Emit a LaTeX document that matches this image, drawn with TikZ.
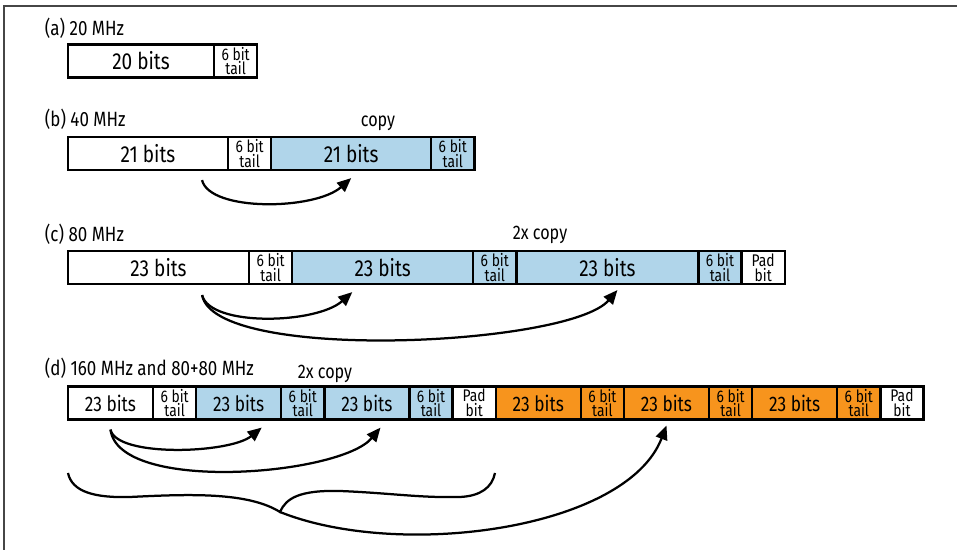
\documentclass[tikz,border=0pt]{standalone}
\usepackage{fontspec}
\setmainfont[FakeStretch=0.82]{Fira Sans}
\usepackage{tikz}
\usetikzlibrary{
    arrows.meta,
    positioning
}
\definecolor{copyblue}{RGB}{176,213,234}
\definecolor{extorange}{RGB}{247,148,29}
\definecolor{framegray}{RGB}{70,70,70}

\begin{document}
\begin{tikzpicture}[
    x=1cm, y=1cm,
    cell/.style={rectangle, draw, line width=1.8pt, minimum height=0.83cm, inner sep=0pt, outer sep=0pt, font=\fontsize{16.5}{18}\selectfont},
    smallcell/.style={cell, minimum width=2.125cm, font=\fontsize{15}{16}\selectfont},
    tail/.style={cell, minimum width=1.08cm, align=center, font=\fontsize{12}{9}\selectfont},
    rowlabel/.style={anchor=base west, font=\fontsize{14.7}{16}\selectfont},
    copylabel/.style={anchor=base, font=\fontsize{14}{16}\selectfont},
    arrow/.style={-{Triangle[length=10pt, width=8.5pt]}, line width=1.6pt}
]
\useasboundingbox (0,0) rectangle (23.925,13.75);

% frame (top and left only)
\draw[framegray, line width=0.9pt] (0.1,0) -- (0.1,13.6) -- (23.925,13.6);

% === (a) 20 MHz ===
\node[rowlabel] (la) at (1.0,12.85) {(a) 20 MHz};
\node[cell, minimum width=3.65cm, anchor=west] (a1) at (1.7,12.225) {20 bits};
\node[tail, right=0pt of a1] (a2) {6 bit\\tail};

% === (b) 40 MHz ===
\node[rowlabel] (lb) at (1.0,10.58) {(b) 40 MHz};
\node[copylabel] (cb) at (9.45,10.58) {copy};
\node[cell, minimum width=4.0cm, anchor=west] (b1) at (1.7,9.9125) {21 bits};
\node[tail, right=0pt of b1] (b2) {6 bit\\tail};
\node[cell, fill=copyblue, minimum width=4.0cm, right=0pt of b2] (b3) {21 bits};
\node[tail, fill=copyblue, right=0pt of b3] (b4) {6 bit\\tail};

\draw[arrow] ([xshift=1.35cm, yshift=-0.25cm]b1.south) .. controls +(0.2,-0.8) and +(-0.9,-0.8) .. ([yshift=-0.2cm]b3.south);

% === (c) 80 MHz ===
\node[rowlabel] (lc) at (1.0,7.71) {(c) 80 MHz};
\node[copylabel] (cc) at (13.5,7.75) {2x copy};
\node[cell, minimum width=4.525cm, anchor=west] (c1) at (1.7,7.0625) {23 bits};
\node[tail, right=0pt of c1] (c2) {6 bit\\tail};
\node[cell, fill=copyblue, minimum width=4.525cm, right=0pt of c2] (c3) {23 bits};
\node[tail, fill=copyblue, right=0pt of c3] (c4) {6 bit\\tail};
\node[cell, fill=copyblue, minimum width=4.55cm, right=0pt of c4] (c5) {23 bits};
\node[tail, fill=copyblue, right=0pt of c5] (c6) {6 bit\\tail};
\node[tail, right=0pt of c6] (c7) {Pad\\bit};

\draw[arrow] ([xshift=1.09cm, yshift=-0.275cm]c1.south) .. controls +(0.2,-0.8) and +(-0.9,-0.8) .. ([xshift=-0.76cm, yshift=-0.2cm]c3.south);
\draw[arrow] ([xshift=1.09cm, yshift=-0.275cm]c1.south) .. controls +(0.3,-1.7) and +(-1.2,-1.4) .. ([xshift=0.25cm, yshift=-0.15cm]c5.south);

% === (d) 160 MHz and 80+80 MHz ===
\node[rowlabel] (ld) at (1.0,4.36) {(d) 160 MHz and 80+80 MHz};
\node[copylabel] (cd) at (8.125,4.275) {2x copy};
\node[smallcell, anchor=west] (d1) at (1.7,3.675) {23 bits};
\node[tail, right=0pt of d1] (d2) {6 bit\\tail};
\node[smallcell, fill=copyblue, right=0pt of d2] (d3) {23 bits};
\node[tail, fill=copyblue, right=0pt of d3] (d4) {6 bit\\tail};
\node[smallcell, fill=copyblue, right=0pt of d4] (d5) {23 bits};
\node[tail, fill=copyblue, right=0pt of d5] (d6) {6 bit\\tail};
\node[tail, right=0pt of d6] (d7) {Pad\\bit};
\node[smallcell, fill=extorange, right=0pt of d7] (d8) {23 bits};
\node[tail, fill=extorange, right=0pt of d8] (d9) {6 bit\\tail};
\node[smallcell, fill=extorange, right=0pt of d9] (d10) {23 bits};
\node[tail, fill=extorange, right=0pt of d10] (d11) {6 bit\\tail};
\node[smallcell, fill=extorange, right=0pt of d11] (d12) {23 bits};
\node[tail, fill=extorange, right=0pt of d12] (d13) {6 bit\\tail};
\node[tail, right=0pt of d13] (d14) {Pad\\bit};

\draw[arrow] ([yshift=-0.25cm]d1.south) .. controls +(0.15,-0.7) and +(-0.8,-0.65) .. ([xshift=0.575cm, yshift=-0.2cm]d3.south);
\draw[arrow] ([yshift=-0.25cm]d1.south) .. controls +(0.2,-1.6) and +(-1.0,-1.2) .. ([xshift=0.34cm, yshift=-0.2cm]d5.south);

% brace under the 80 MHz part
\coordinate (bt) at (7.0,0.95);
\draw[line width=1.6pt] (1.7,1.925) .. controls (1.8,1.45) and (2.375,1.3) .. (3.25,1.325)
    .. controls (4.75,1.4) and (6.2,1.45) .. (bt)
    .. controls (7.15,1.3) and (7.5,1.5) .. (8.5,1.475)
    .. controls (9.75,1.425) and (10.5,1.3) .. (11.5,1.325)
    .. controls (12.0,1.35) and (12.3,1.55) .. (12.375,1.925);
\draw[arrow] (bt) .. controls +(3,-1.2) and +(-1.0,-2.6) .. ([yshift=-0.15cm]d10.south);

\end{tikzpicture}
\end{document}
